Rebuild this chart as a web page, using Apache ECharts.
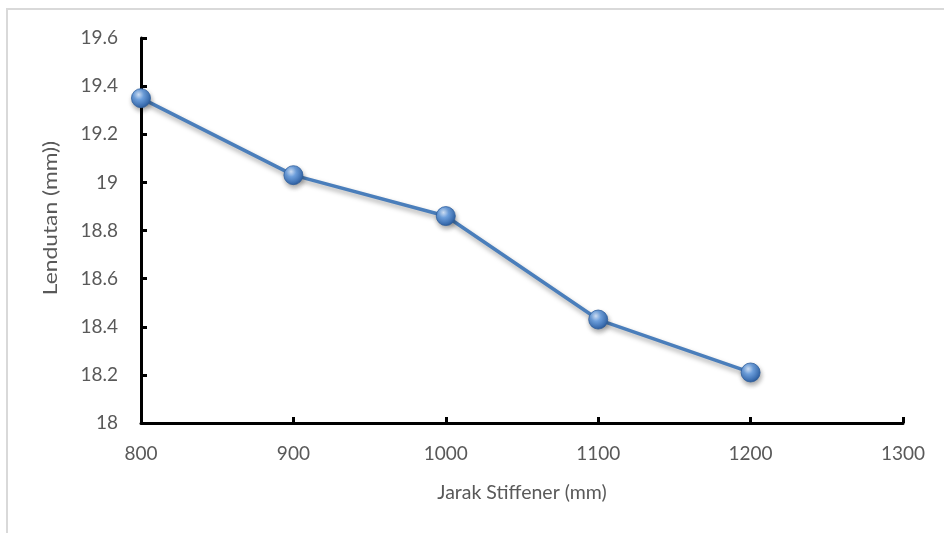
<!DOCTYPE html>
<html>
<head>
<meta charset="utf-8">
<script src="https://cdn.jsdelivr.net/npm/echarts@6/dist/echarts.min.js"></script>
<style>
  html, body { margin: 0; padding: 0; background: #fff; }
  #frame { position: absolute; left: 6px; top: 8px; width: 960px; height: 540px; border: 2px solid #d9d9d9; box-sizing: border-box; }
  #chart { position: absolute; left: 0; top: 0; width: 944px; height: 533px; }
</style>
</head>
<body>
<div id="frame"></div>
<div id="chart"></div>
<script>
// Stiffener spacing (mm) vs. deflection (mm)
const jarakStiffener = [800, 900, 1000, 1100, 1200];
const lendutan = [19.35, 19.03, 18.86, 18.43, 18.21];

const xTitle = 'Jarak Stiffener (mm)';
const yTitle = 'Lendutan (mm))';

const labelFont = 'Lato, "Open Sans", sans-serif';
const textColor = '#595959';

const chart = echarts.init(document.getElementById('chart'), null, { renderer: 'canvas' });

const sphere = {
  type: 'radial', x: 0.38, y: 0.32, r: 0.75,
  colorStops: [
    { offset: 0, color: '#d3e4fa' },
    { offset: 0.35, color: '#6d9fdc' },
    { offset: 0.8, color: '#3a6db0' },
    { offset: 1, color: '#264f86' }
  ]
};

chart.setOption({
  animation: false,
  backgroundColor: 'transparent',
  grid: { left: 141, right: 41, top: 38, bottom: 110, containLabel: false },
  xAxis: {
    type: 'value',
    min: 800, max: 1300, interval: 100,
    name: xTitle, nameLocation: 'middle', nameGap: 60,
    nameTextStyle: { color: textColor, fontSize: 19.5, fontFamily: labelFont },
    axisLine: { show: true, lineStyle: { color: '#000', width: 3 } },
    axisTick: { show: true, inside: true, length: 6, lineStyle: { color: '#000', width: 3 } },
    axisLabel: {
      color: textColor, fontSize: 19, fontFamily: labelFont, margin: 21,
      formatter: v => String(v)
    },
    splitLine: { show: false }
  },
  yAxis: {
    type: 'value',
    min: 18, max: 19.6, interval: 0.2,
    axisLine: { show: true, lineStyle: { color: '#000', width: 3 } },
    axisTick: { show: true, inside: true, length: 6, lineStyle: { color: '#000', width: 3 } },
    axisLabel: {
      color: textColor, fontSize: 19, fontFamily: labelFont, margin: 23,
      formatter: v => String(Math.round(v * 10) / 10)
    },
    splitLine: { show: false }
  },
  // vertical axis title, drawn as rotated text stretched along its length
  graphic: [{
    type: 'text',
    x: 51, y: 218,
    rotation: Math.PI / 2,
    scaleX: 1.2,
    style: {
      text: yTitle,
      fill: textColor,
      font: '19px ' + labelFont,
      align: 'center',
      verticalAlign: 'middle'
    }
  }],
  series: [{
    type: 'line',
    data: jarakStiffener.map((x, i) => [x, lendutan[i]]),
    lineStyle: {
      color: '#4a7ebb', width: 3.5,
      shadowColor: 'rgba(0,0,0,0.35)', shadowBlur: 5, shadowOffsetX: 1, shadowOffsetY: 3
    },
    symbol: 'circle',
    symbolSize: 19,
    itemStyle: {
      color: sphere, borderColor: '#2f5f9e', borderWidth: 0.8,
      shadowColor: 'rgba(0,0,0,0.35)', shadowBlur: 5, shadowOffsetX: 1, shadowOffsetY: 3
    },
    z: 3
  }]
});
</script>
</body>
</html>
